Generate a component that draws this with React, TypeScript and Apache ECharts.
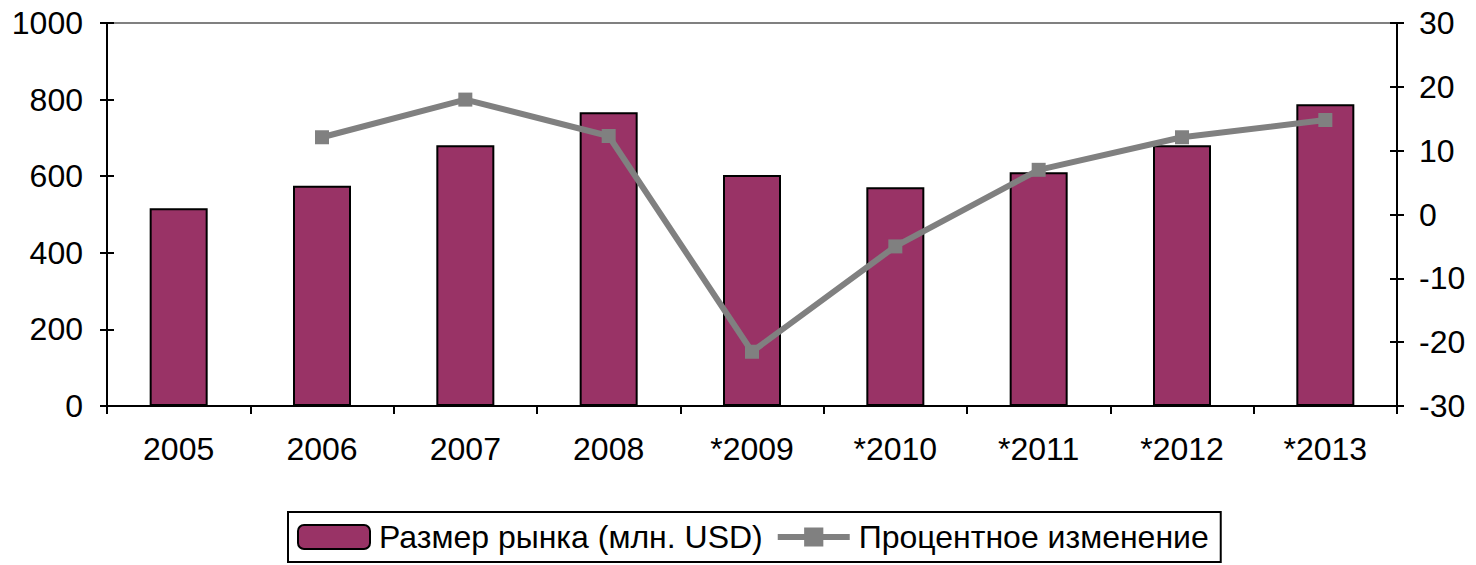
import React, { useEffect, useRef } from "react";
import * as echarts from "echarts";

const categories = ["2005", "2006", "2007", "2008", "*2009", "*2010", "*2011", "*2012", "*2013"];
const marketSize = [516, 575, 681, 767, 603, 571, 610, 681, 788];
const pctChange: (number | null)[] = [null, 12.1, 18.0, 12.3, -21.5, -5.0, 7.0, 12.1, 14.8];
const barName = "Размер рынка (млн. USD)";
const lineName = "Процентное изменение";

const FONT = "'Liberation Sans', Arial, sans-serif";
const FS = 32;

export default function App() {
  const ref = useRef<HTMLDivElement>(null);
  useEffect(() => {
    document.body.style.margin = "0";
    if (!ref.current) return;
    const chart = echarts.init(ref.current, null, { renderer: "svg" });
    const axisLine = { show: true, lineStyle: { color: "#000", width: 2 } };
    const labelStyle = { color: "#000", fontSize: FS, fontFamily: FONT };
    const plain = (v: number) => String(v);
    chart.setOption({
      animation: false,
      backgroundColor: "#fff",
      textStyle: { fontFamily: FONT },
      grid: {
        left: 107,
        right: 79,
        top: 23,
        bottom: 159,
        show: true,
        borderColor: "#808080",
        borderWidth: 2,
      },
      legend: {
        top: 512,
        left: 288,
        itemWidth: 72,
        itemHeight: 24,
        itemGap: 12,
        padding: [9, 12, 9, 9],
        borderColor: "#000",
        borderWidth: 2,
        textStyle: { ...labelStyle, padding: [0, 0, 0, 4] },
        data: [
          { name: barName },
          { name: lineName, lineStyle: { width: 6, color: "#808080" }, itemStyle: { color: "#808080" } },
        ],
      },
      xAxis: {
        type: "category",
        data: categories,
        boundaryGap: true,
        axisLine,
        axisTick: { show: true, length: 8, lineStyle: { color: "#000", width: 2 } },
        axisLabel: { ...labelStyle, margin: 27 },
        splitLine: { show: false },
      },
      yAxis: [
        {
          type: "value",
          min: 0,
          max: 1000,
          interval: 200,
          position: "left",
          axisLine,
          axisTick: { show: true, length: 7, lineStyle: { color: "#000", width: 2 } },
          axisLabel: { ...labelStyle, margin: 24, formatter: plain },
          splitLine: { show: false },
        },
        {
          type: "value",
          min: -30,
          max: 30,
          interval: 10,
          position: "right",
          axisLine,
          axisTick: { show: true, length: 7, lineStyle: { color: "#000", width: 2 } },
          axisLabel: { ...labelStyle, margin: 22, formatter: plain },
          splitLine: { show: false },
        },
        {
          type: "value",
          min: 0,
          max: 1000,
          interval: 200,
          position: "left",
          offset: 0,
          axisLine,
          axisTick: { show: true, inside: true, length: 7, lineStyle: { color: "#000", width: 2 } },
          axisLabel: { show: false },
          splitLine: { show: false },
        },
        {
          type: "value",
          min: -30,
          max: 30,
          interval: 10,
          position: "right",
          offset: 0,
          axisLine,
          axisTick: { show: true, inside: true, length: 7, lineStyle: { color: "#000", width: 2 } },
          axisLabel: { show: false },
          splitLine: { show: false },
        },
      ],
      series: [
        {
          name: barName,
          type: "bar",
          data: marketSize,
          yAxisIndex: 0,
          barWidth: 58,
          itemStyle: { color: "#993366", borderColor: "#000", borderWidth: 2 },
        },
        {
          name: lineName,
          type: "line",
          data: pctChange,
          yAxisIndex: 1,
          symbol: "rect",
          symbolSize: 14,
          lineStyle: { color: "#808080", width: 6 },
          itemStyle: { color: "#808080" },
          connectNulls: false,
        },
      ],
    });
    return () => chart.dispose();
  }, []);
  return <div ref={ref} style={{ width: 1476, height: 565 }} />;
}
